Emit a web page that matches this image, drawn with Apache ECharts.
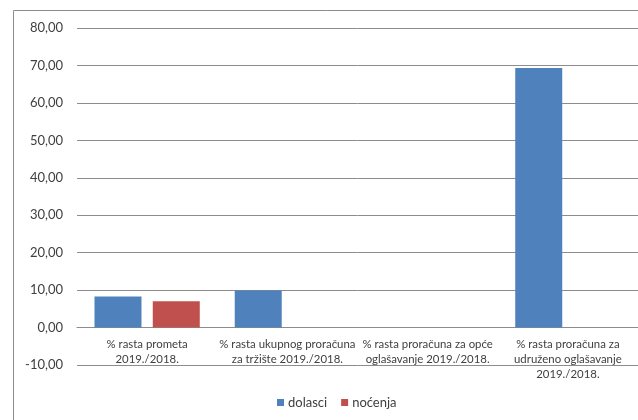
<!DOCTYPE html>
<html>
<head>
<meta charset="utf-8">
<script src="https://cdn.jsdelivr.net/npm/echarts@6/dist/echarts.min.js"></script>
<style>
  html, body { margin: 0; padding: 0; background: #fff; }
  #chart { width: 638px; height: 420px; }
</style>
</head>
<body>
<div id="chart"></div>
<script>
// Growth indicators, 2019 vs 2018 (%)
const categories = [
  '% rasta prometa\n2019./2018.',
  '% rasta ukupnog proračuna\nza tržište 2019./2018.',
  '% rasta proračuna za opće\noglašavanje 2019./2018.',
  '% rasta proračuna za\nudruženo oglašavanje\n2019./2018.'
];
const dolasci = [8.3, 9.9, null, 69.3];
const nocenja = [7.0, null, null, null];
const seriesNames = ['dolasci', 'noćenja'];
const yTicks = { min: -10, max: 80, step: 10 };

const FONT = 'Lato, "Open Sans", sans-serif';
const TEXT = '#404040';
const GRID = '#8c8c8c';

const chart = echarts.init(document.getElementById('chart'), null, { renderer: 'canvas' });
chart.setOption({
  animation: false,
  backgroundColor: '#fff',
  textStyle: { fontFamily: FONT },
  graphic: [{
    type: 'rect',
    shape: { x: 13.5, y: 10.5, width: 700, height: 500 },
    style: { fill: 'none', stroke: '#8c8c8c', lineWidth: 1 },
    silent: true
  }],
  legend: {
    data: seriesNames,
    left: 272,
    top: 391,
    itemWidth: 7,
    itemHeight: 7,
    itemGap: 14,
    icon: 'rect',
    textStyle: { fontFamily: FONT, fontSize: 13, color: TEXT, padding: [0, 0, 0, -1] }
  },
  grid: { left: 77, width: 567, top: 28, bottom: 55, containLabel: false },
  xAxis: {
    type: 'category',
    data: categories,
    axisLine: { onZero: true, lineStyle: { color: GRID, width: 1 } },
    axisTick: { show: false },
    axisLabel: {
      interval: 0,
      fontFamily: FONT,
      fontSize: 11.4,
      lineHeight: 15,
      color: TEXT,
      margin: -28
    },
    splitLine: { show: false }
  },
  yAxis: {
    type: 'value',
    min: yTicks.min,
    max: yTicks.max,
    interval: yTicks.step,
    axisLine: { show: false },
    axisTick: { show: false },
    axisLabel: {
      fontFamily: FONT,
      fontSize: 13,
      color: TEXT,
      margin: 14,
      formatter: v => v.toFixed(2).replace('.', ',')
    },
    splitLine: { lineStyle: { color: GRID, width: 1 } }
  },
  series: [
    {
      name: seriesNames[0],
      type: 'bar',
      data: dolasci,
      itemStyle: { color: '#4f81bd' },
      barWidth: 47,
      barGap: '24%'
    },
    {
      name: seriesNames[1],
      type: 'bar',
      data: nocenja,
      itemStyle: { color: '#c0504d' },
      barWidth: 47,
      barGap: '24%'
    }
  ]
});
</script>
</body>
</html>
